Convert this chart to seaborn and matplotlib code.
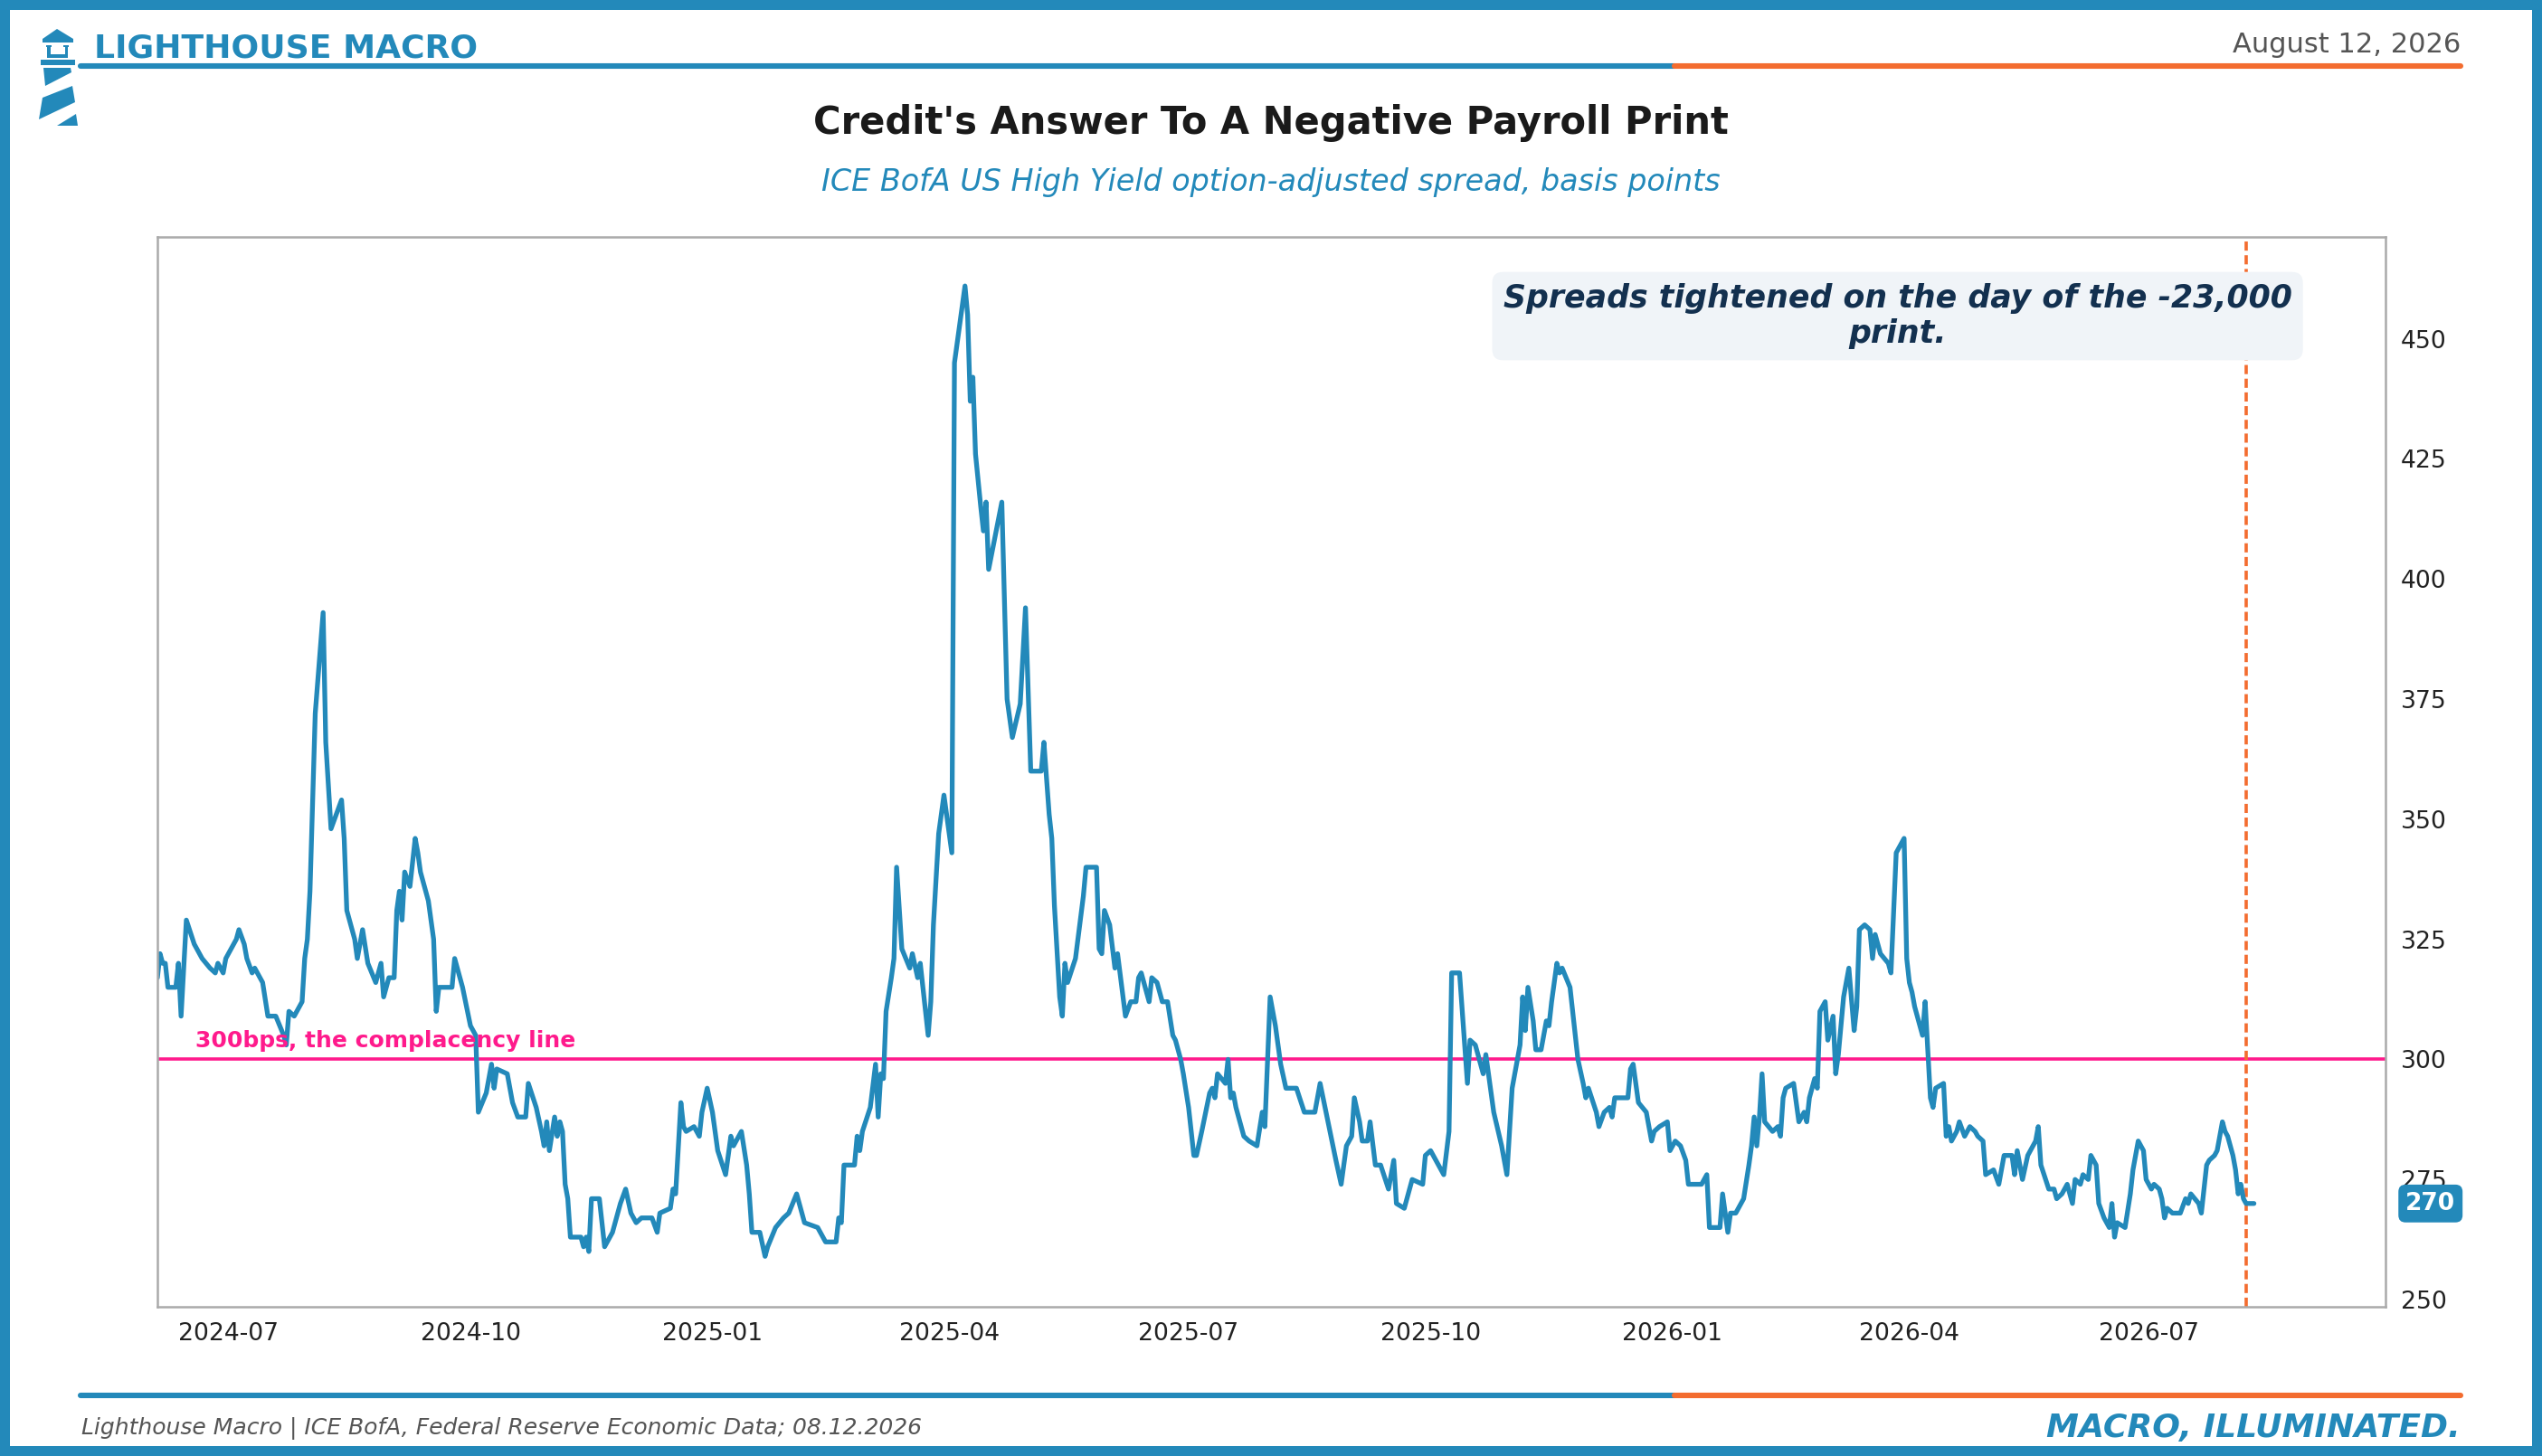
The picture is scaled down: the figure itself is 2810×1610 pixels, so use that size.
import matplotlib
matplotlib.use("Agg")
import matplotlib.pyplot as plt
import matplotlib.dates as mdates
import matplotlib.transforms as mtransforms
from matplotlib.patches import Rectangle, Polygon
from matplotlib.lines import Line2D
import seaborn as sns
import pandas as pd

# --- data: HY OAS (day offsets from 2024-07-01, bp) ---
base_date = "2024-07-01"
day_offset = [
    -27, -26, -25, -24, -23, -20, -19, -18, -16, -13, -10, -7, -5, -4, -2, -1, 1, 3, 4, 6, 7, 9, 10,
    13, 15, 18, 21, 22, 23, 25, 28, 29, 30, 31, 33, 36, 37, 39, 41, 43, 44, 45, 48, 49, 51, 53, 56,
    58, 59, 61, 63, 64, 65, 66, 67, 69, 71, 72, 73, 76, 78, 79, 80, 85, 86, 89, 92, 94, 95, 98, 100,
    101, 102, 106, 108, 110, 113, 114, 117, 119, 120, 121, 122, 124, 125, 126, 127, 128, 129, 130,
    134, 135, 136, 137, 138, 141, 142, 143, 146, 148, 149, 151, 153, 155, 157, 161, 163, 164, 168,
    169, 170, 172, 173, 174, 177, 179, 180, 182, 184, 186, 189, 191, 192, 195, 197, 198, 199, 202,
    204, 205, 208, 211, 213, 216, 218, 219, 224, 227, 231, 232, 233, 234, 238, 239, 240, 241, 244,
    246, 247, 248, 249, 250, 252, 253, 254, 256, 259, 260, 262, 263, 266, 267, 268, 270, 272, 275,
    276, 280, 281, 282, 283, 284, 286, 287, 288, 289, 294, 296, 298, 301, 303, 305, 309, 310, 312,
    313, 314, 316, 317, 318, 319, 322, 325, 326, 330, 331, 332, 333, 335, 337, 338, 341, 343, 345,
    346, 347, 350, 351, 353, 355, 357, 359, 360, 362, 363, 365, 367, 368, 370, 373, 374, 375, 376,
    379, 380, 381, 382, 383, 386, 388, 391, 393, 394, 396, 398, 400, 402, 406, 409, 413, 415, 418,
    421, 423, 425, 427, 428, 430, 431, 433, 434, 436, 438, 441, 443, 444, 447, 450, 454, 455, 457,
    460, 462, 464, 465, 468, 471, 472, 474, 477, 478, 481, 484, 486, 488, 491, 492, 493, 494, 496,
    497, 499, 501, 502, 503, 505, 506, 507, 510, 513, 515, 516, 517, 520, 521, 523, 525, 526, 527,
    532, 533, 534, 536, 539, 541, 542, 544, 547, 548, 550, 552, 554, 555, 560, 562, 563, 567, 568,
    570, 571, 573, 576, 578, 579, 580, 581, 582, 583, 584, 587, 589, 590, 591, 592, 595, 597, 599,
    600, 601, 603, 604, 605, 607, 608, 610, 611, 612, 614, 615, 616, 618, 619, 620, 622, 624, 625,
    626, 628, 631, 632, 634, 637, 638, 639, 640, 641, 644, 645, 647, 648, 649, 652, 653, 654, 655,
    657, 658, 660, 662, 664, 665, 667, 668, 671, 673, 675, 678, 679, 680, 682, 684, 687, 688, 689,
    692, 694, 695, 697, 699, 701, 702, 704, 705, 707, 708, 710, 711, 713, 715, 716, 717, 718, 721,
    723, 724, 726, 728, 729, 731, 732, 734, 735, 736, 737, 739, 742, 744, 745, 746, 749, 750, 752,
    753, 755, 756, 758, 759, 760, 762, 763, 764, 765, 766, 767, 770,
]
spread_bp = [
    317, 322, 320, 320, 315, 315, 320, 309, 329, 324, 321, 319, 318, 320, 318, 321, 323, 325, 327, 324, 321, 318, 319,
    316, 309, 309, 305, 303, 310, 309, 312, 321, 325, 335, 372, 393, 366, 348, 351, 354, 346, 331, 325, 321, 327, 320, 316,
    320, 313, 317, 317, 331, 335, 329, 339, 336, 346, 343, 339, 333, 325, 310, 315, 315, 321, 315, 307, 305, 289, 293, 299,
    294, 298, 297, 291, 288, 288, 295, 290, 285, 282, 287, 281, 288, 284, 287, 285, 274, 271, 263,
    263, 261, 263, 260, 271, 271, 266, 261, 264, 268, 270, 273, 268, 266, 267, 267, 264, 268, 269,
    273, 272, 291, 286, 285, 286, 284, 289, 294, 289, 281, 276, 284, 282, 285, 278, 272, 264, 264,
    259, 261, 265, 267, 268, 272, 268, 266, 265, 262, 262, 267, 266, 278, 278, 284, 281, 285, 290,
    299, 288, 297, 296, 310, 317, 321, 340, 323, 319, 322, 317, 320, 305, 312, 328, 347, 355, 343,
    445, 461, 455, 437, 442, 426, 415, 410, 416, 402, 416, 375, 367, 374, 394, 360, 360, 366, 351,
    346, 332, 313, 309, 320, 316, 321, 334, 340, 340, 323, 322, 331, 328, 319, 322, 309, 312, 312,
    317, 318, 312, 317, 316, 312, 312, 305, 304, 300, 297, 290, 280, 280, 285, 293, 294, 292, 297,
    295, 300, 292, 293, 290, 284, 283, 282, 289, 286, 313, 307, 299, 294, 294, 289, 289, 295, 287,
    279, 274, 282, 284, 292, 287, 283, 283, 287, 278, 278, 273, 279, 270, 269, 275, 274, 280, 281,
    278, 276, 285, 318, 318, 295, 304, 303, 297, 301, 289, 282, 276, 294, 303, 313, 306, 315, 308,
    302, 302, 308, 307, 312, 320, 318, 319, 315, 300, 295, 292, 294, 289, 286, 289, 290, 288, 292,
    292, 298, 299, 291, 289, 283, 285, 286, 287, 281, 283, 282, 279, 274, 274, 276, 265, 265, 272,
    264, 268, 268, 271, 278, 282, 288, 282, 288, 297, 287, 285, 286, 284, 292, 294, 295, 287, 289,
    287, 292, 296, 294, 310, 312, 304, 309, 297, 301, 313, 316, 319, 306, 311, 327, 328, 327, 321,
    326, 322, 320, 318, 343, 346, 321, 316, 314, 311, 305, 312, 292, 290, 294, 295, 284, 286, 283,
    285, 287, 284, 286, 285, 284, 283, 276, 277, 274, 280, 280, 276, 281, 275, 280, 283, 286, 278,
    273, 273, 271, 272, 274, 270, 275, 274, 276, 275, 280, 278, 270, 267, 265, 270, 263, 266, 265,
    272, 277, 283, 281, 275, 273, 274, 273, 271, 267, 269, 268, 268, 271, 270, 272, 270, 268, 278,
    279, 280, 281, 287, 285, 284, 280, 277, 272, 274, 271, 270, 270,
]
event_date = "2026-08-07"
complacency_level = 300
y_ticks = [250, 275, 300, 325, 350, 375, 400, 425, 450]

title = "Credit's Answer To A Negative Payroll Print"
subtitle = "ICE BofA US High Yield option-adjusted spread, basis points"
annotation = "Spreads tightened on the day of the -23,000\nprint."
source_note = "Lighthouse Macro | ICE BofA, Federal Reserve Economic Data; 08.12.2026"

BLUE = "#2389BA"
ORANGE = "#F36C2F"
PINK = "#FF1A8C"
NAVY = "#13304F"

W, H = 2810, 1610
DPI = 200

sns.set_theme(style="white")
plt.rcParams["font.family"] = ["DejaVu Sans"]

df = pd.DataFrame({
    "date": pd.Timestamp(base_date) + pd.to_timedelta(day_offset, unit="D"),
    "spread": spread_bp,
})

fig = plt.figure(figsize=(W / DPI, H / DPI), dpi=DPI)
fig.patch.set_facecolor("white")

ax = fig.add_axes([174 / W, 1 - 1445 / H, (2637 - 174) / W, (1445 - 262) / H])
sns.lineplot(data=df, x="date", y="spread", ax=ax, color=BLUE, linewidth=1.9)

ax.axhline(complacency_level, color=PINK, linewidth=1.3, zorder=1)
ax.axvline(pd.Timestamp(event_date), color=ORANGE, linewidth=1.3,
           linestyle=(0, (2.8, 1.4)), zorder=1)

ax.set_xlim(pd.Timestamp("2024-06-04"), pd.Timestamp("2026-09-29"))
ax.set_ylim(248.5, 471.2)
ax.set_yticks(y_ticks)
ax.yaxis.tick_right()
ax.xaxis.set_major_locator(mdates.MonthLocator(bymonth=[1, 4, 7, 10]))
ax.xaxis.set_major_formatter(mdates.DateFormatter("%Y-%m"))
ax.tick_params(axis="both", length=0, labelsize=9.6, colors="#222222")
ax.tick_params(axis="x", pad=6)
ax.tick_params(axis="y", pad=6)
ax.set_xlabel("")
ax.set_ylabel("")
for sp in ax.spines.values():
    sp.set_color("#AAAAAA")
    sp.set_linewidth(0.9)

blend = mtransforms.blended_transform_factory(ax.transAxes, ax.transData)
ax.text(0.017, complacency_level + 1.5, "300bps, the complacency line", transform=blend,
        color=PINK, fontsize=9, fontweight="bold", va="bottom", ha="left")

ax.text(0.781, 0.926, annotation, transform=ax.transAxes, ha="center", va="center",
        fontsize=12.5, fontweight="bold", style="italic", color=NAVY, linespacing=1.2,
        bbox=dict(boxstyle="round,pad=0.35", fc="#F0F4F8", ec="none"))

last_val = spread_bp[-1]
ax.text(1.009, last_val, f"{last_val}", transform=blend, ha="left", va="center",
        fontsize=9.5, fontweight="bold", color="white",
        bbox=dict(boxstyle="round,pad=0.3", fc=BLUE, ec="none"), clip_on=False)

# --- header / footer ---
fig.text(0.5, 1 - 136 / H, title, ha="center", va="center", fontsize=15,
         fontweight="bold", color="#1A1A1A")
fig.text(0.5, 1 - 201 / H, subtitle, ha="center", va="center", fontsize=12,
         style="italic", color=BLUE)
fig.text(104 / W, 1 - 53 / H, "LIGHTHOUSE MACRO", ha="left", va="center",
         fontsize=13, fontweight="bold", color=BLUE)
fig.text(2720 / W, 1 - 50 / H, "August 12, 2026", ha="right", va="center",
         fontsize=11, color="#555555")
fig.text(90 / W, 1 - 1579 / H, source_note, ha="left", va="center",
         fontsize=9, style="italic", color="#555555")
fig.text(2720 / W, 1 - 1579 / H, "MACRO, ILLUMINATED.", ha="right", va="center",
         fontsize=13, fontweight="bold", style="italic", color=BLUE)

for y_px in (73, 1543):
    fig.add_artist(Line2D([89 / W, 1851 / W], [1 - y_px / H] * 2, color=BLUE, linewidth=2.2))
    fig.add_artist(Line2D([1851 / W, 2720 / W], [1 - y_px / H] * 2, color=ORANGE, linewidth=2.2))

# frame
t = 11
for rect in ([0, 0, 1, t / H], [0, 1 - t / H, 1, t / H], [0, 0, t / W, 1], [1 - t / W, 0, t / W, 1]):
    fig.add_artist(Rectangle(rect[:2], rect[2], rect[3], transform=fig.transFigure,
                             facecolor=BLUE, edgecolor="none"))

# lighthouse logo
lax = fig.add_axes([40 / W, 1 - 142 / H, 50 / W, 112 / H])
lax.set_xlim(40, 90)
lax.set_ylim(142, 30)
lax.axis("off")
logo_shapes = [
    [(47, 43), (63, 32), (81, 43), (81, 47), (47, 47)],   # roof
    [(52, 51), (55.5, 51), (55.5, 64), (52, 64)],        # lantern post
    [(71.5, 51), (75, 51), (75, 64), (71.5, 64)],        # lantern post
    [(51, 50), (57, 50), (57, 52.5), (51, 52.5)],
    [(70, 50), (76, 50), (76, 52.5), (70, 52.5)],
    [(52, 60.5), (75, 60.5), (75, 64), (52, 64)],        # lantern base
    [(45, 66), (83, 66), (83, 72), (45, 72)],            # gallery
    [(48, 75), (78, 75), (79, 80), (50, 95)],
    [(47, 108), (80, 95), (83, 113), (43, 132)],
    [(63, 139), (84, 126), (86, 139)],
]
for pts in logo_shapes:
    lax.add_patch(Polygon(pts, closed=True, facecolor=BLUE, edgecolor="none"))

fig.savefig("out.png", dpi=DPI, facecolor="white")
